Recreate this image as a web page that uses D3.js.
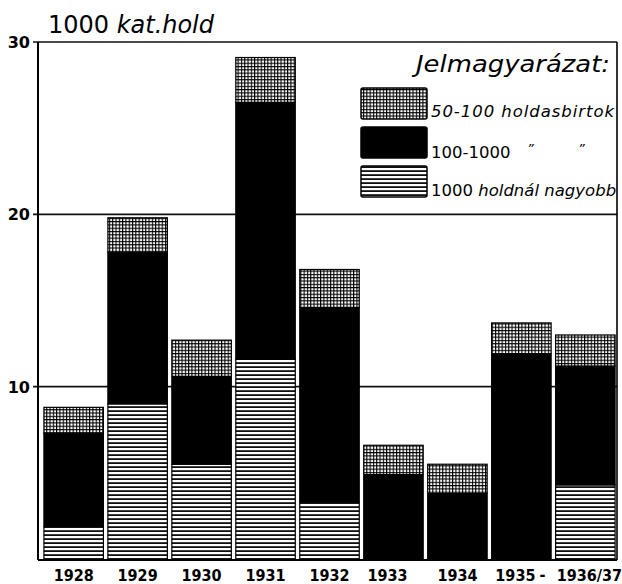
<!DOCTYPE html>
<html>
<head>
<meta charset="utf-8">
<script src="https://cdn.jsdelivr.net/npm/d3@7"></script>
<style>
  body { margin: 0; background: #fff; }
  svg { display: block; }
  .tick-label { font-family: "DejaVu Sans", sans-serif; font-weight: bold; font-size: 16px; }
  .year { font-family: "DejaVu Sans Condensed", "DejaVu Sans", sans-serif; font-size: 16px; font-weight: bold; }
  .hand { font-family: "DejaVu Sans", sans-serif; font-style: italic; }
</style>
</head>
<body>
<div id="chart"></div>
<script>
// chart size
var svgWidth = 622;
var svgHeight = 584;

// data (1000 kat. hold)
var years = ["1928", "1929", "1930", "1931", "1932", "1933", "1934", "1935", "1936/37"];
var over1000 = [1.9, 9.0, 5.5, 11.6, 3.3, 0, 0, 0, 4.3];
var from100to1000 = [5.4, 8.8, 5.1, 14.9, 11.3, 4.9, 3.8, 11.9, 6.9];
var from50to100 = [1.5, 2.0, 2.1, 2.6, 2.2, 1.7, 1.7, 1.8, 1.8];
var yTicks = [10, 20, 30];
var legendLabels = ["50-100 holdasbirtok", "100-1000", "1000 holdnál nagyobb"];

var plot = { left: 38, right: 617, top: 42, bottom: 559 };

var svg = d3.select("#chart")
  .append("svg")
  .attr("width", svgWidth)
  .attr("height", svgHeight);

// fill patterns
var defs = svg.append("defs");

var checker = defs.append("pattern")
  .attr("id", "checker")
  .attr("width", 3.3).attr("height", 3.3)
  .attr("patternUnits", "userSpaceOnUse");
checker.append("rect").attr("width", 3.3).attr("height", 3.3).attr("fill", "#000");
checker.append("rect").attr("x", 1.1).attr("y", 1.1).attr("width", 2.2).attr("height", 2.2).attr("fill", "#fff");

var stripes = defs.append("pattern")
  .attr("id", "stripes")
  .attr("width", 8).attr("height", 4)
  .attr("patternUnits", "userSpaceOnUse");
stripes.append("rect").attr("width", 8).attr("height", 4).attr("fill", "#fff");
stripes.append("rect").attr("y", 2.2).attr("width", 8).attr("height", 1.8).attr("fill", "#111");

defs.append("clipPath").attr("id", "frame")
  .append("rect")
  .attr("x", plot.left).attr("y", plot.top)
  .attr("width", plot.right - plot.left - 1).attr("height", plot.bottom - plot.top);

// scales
var x = d3.scaleBand()
  .domain(years)
  .range([plot.left + 4, plot.right])
  .paddingInner(0.07)
  .paddingOuter(0.03);

var y = d3.scaleLinear()
  .domain([0, 30])
  .range([plot.bottom, plot.top]);

// stack the three size classes
var rows = years.map(function(yr, i) {
  return { year: yr, large: over1000[i], mid: from100to1000[i], small: from50to100[i] };
});
var keys = ["large", "mid", "small"];
var fills = { large: "url(#stripes)", mid: "#000", small: "url(#checker)" };
var series = d3.stack().keys(keys)(rows);

// horizontal rules at 10, 20, 30
svg.append("g")
  .selectAll("line")
  .data(yTicks)
  .enter()
  .append("line")
  .attr("x1", plot.left - 5)
  .attr("x2", plot.right)
  .attr("y1", d => y(d))
  .attr("y2", d => y(d))
  .attr("stroke", "#111")
  .attr("stroke-width", 1.6);

// bars
var layers = svg.append("g")
  .selectAll("g")
  .data(series)
  .enter()
  .append("g")
  .attr("fill", d => fills[d.key]);

layers.selectAll("rect")
  .data(d => d.filter(s => s[1] - s[0] > 0))
  .enter()
  .append("rect")
  .attr("x", d => x(d.data.year))
  .attr("y", d => y(d[1]))
  .attr("width", x.bandwidth())
  .attr("height", d => y(d[0]) - y(d[1]))
  .attr("stroke", "#000")
  .attr("stroke-width", 1.2);

// axis frame: left, bottom, right
svg.append("line")
  .attr("x1", plot.left).attr("x2", plot.left)
  .attr("y1", plot.top).attr("y2", plot.bottom + 1)
  .attr("stroke", "#000").attr("stroke-width", 2);
svg.append("line")
  .attr("x1", plot.left).attr("x2", plot.right)
  .attr("y1", plot.bottom + 1).attr("y2", plot.bottom + 1)
  .attr("stroke", "#000").attr("stroke-width", 2);
svg.append("line")
  .attr("x1", plot.right).attr("x2", plot.right)
  .attr("y1", plot.top).attr("y2", plot.bottom + 1)
  .attr("stroke", "#000").attr("stroke-width", 1.6);

// tick labels
svg.append("g")
  .selectAll("text")
  .data(yTicks)
  .enter()
  .append("text")
  .attr("class", "tick-label")
  .attr("x", 30)
  .attr("y", d => y(d) + 6)
  .attr("text-anchor", "end")
  .text(d => d);

// year labels (hand lettered, not quite centred under the last bars)
var labelShift = { "1933": -6, "1935": -6, "1936/37": 4 };
svg.append("g")
  .selectAll("text")
  .data(years)
  .enter()
  .append("text")
  .attr("class", "year")
  .attr("x", d => x(d) + x.bandwidth() / 2 + (labelShift[d] || 0))
  .attr("y", 581)
  .attr("text-anchor", "middle")
  .text(d => d);

svg.append("text")
  .attr("class", "year")
  .attr("x", x("1936/37") - 13)
  .attr("y", 580)
  .attr("text-anchor", "middle")
  .text("-");

// unit title
var title = svg.append("text")
  .attr("x", 48)
  .attr("y", 33)
  .attr("font-family", "DejaVu Sans, sans-serif")
  .attr("font-size", 24)
  .attr("textLength", 166);
title.append("tspan").text("1000 ");
title.append("tspan").attr("font-style", "italic").text("kat.hold");

// legend
var legend = svg.append("g").attr("clip-path", "url(#frame)");

legend.append("text")
  .attr("class", "hand")
  .attr("x", 416)
  .attr("y", 72)
  .attr("font-size", 23)
  .attr("textLength", 194)
  .attr("lengthAdjust", "spacingAndGlyphs")
  .text("Jelmagyarázat:");

var legendKeys = ["small", "mid", "large"];
var legendTop = [88, 127, 166];

legendKeys.forEach(function(k, i) {
  legend.append("rect")
    .attr("x", 361)
    .attr("y", legendTop[i])
    .attr("width", 66)
    .attr("height", 31)
    .attr("rx", 2)
    .attr("fill", fills[k])
    .attr("stroke", "#000")
    .attr("stroke-width", 1.5);
});

legend.append("text")
  .attr("class", "hand")
  .attr("x", 431).attr("y", 117)
  .attr("font-size", 16.5)
  .attr("textLength", 183)
  .text(legendLabels[0]);

legend.append("text")
  .attr("x", 431).attr("y", 158)
  .attr("font-family", "DejaVu Sans, sans-serif")
  .attr("font-size", 16.5)
  .text(legendLabels[1]);
legend.append("text")
  .attr("class", "hand")
  .attr("x", 527).attr("y", 153)
  .attr("font-size", 13)
  .text("\u201D");
legend.append("text")
  .attr("class", "hand")
  .attr("x", 578).attr("y", 153)
  .attr("font-size", 13)
  .text("\u201D");

var big = legend.append("text")
  .attr("x", 431).attr("y", 196)
  .attr("font-size", 16.5);
big.append("tspan").attr("font-family", "DejaVu Sans, sans-serif").text("1000 ");
big.append("tspan").attr("class", "hand").text("holdnál nagyobb");
</script>
</body>
</html>
